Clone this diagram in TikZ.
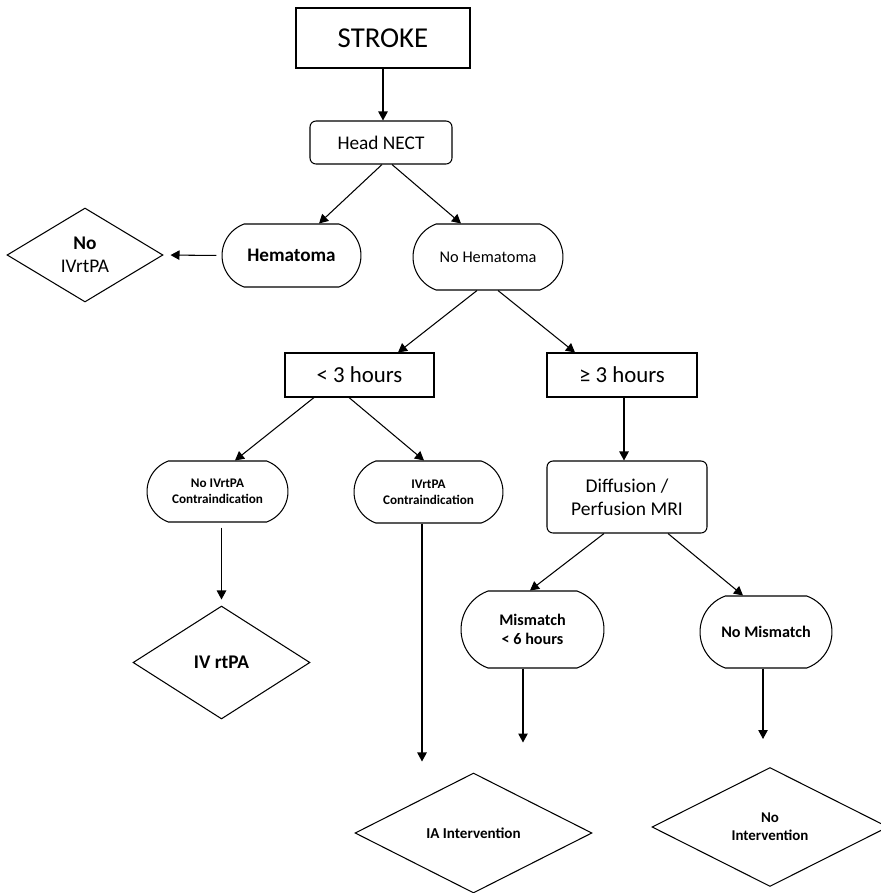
\documentclass[tikz,border=0pt]{standalone}
\usepackage{fontspec}
\setmainfont{Carlito}
\usetikzlibrary{shapes.geometric,shapes.misc,arrows.meta}

\newcommand{\fs}[2]{\fontsize{#1}{#2}\selectfont}

\begin{document}
\begin{tikzpicture}[x=0.02cm,y=-0.02cm,
    box/.style={draw,rectangle,inner sep=0pt,line width=0.6pt},
    rbox/.style={box,rounded corners=0.12cm},
    pill/.style={draw,rounded rectangle,rounded rectangle arc length=140,inner sep=0pt,line width=0.6pt,align=center},
    choice/.style={draw,diamond,inner sep=0pt,line width=0.6pt,align=center},
    arrow/.style={-{Triangle[length=1.8mm,width=1.9mm]},line width=0.6pt}]

    \useasboundingbox (0,0) rectangle (880,893);

    % Step 1: Imaging
    \node[box,minimum width=3.48cm,minimum height=1.2cm,font=\fs{16.4pt}{19pt}] (stroke) at (383,38) {STROKE};
    \node[rbox,minimum width=2.84cm,minimum height=0.86cm,font=\fs{11pt}{13pt}] (head) at (381,142.5) {Head NECT};

    % Step 2: Hematoma or not
    \node[pill,minimum width=2.78cm,minimum height=1.26cm,font=\fs{10.9pt}{13pt}\bfseries] (hem) at (291.5,255.5) {Hematoma};
    \node[pill,minimum width=3.0cm,minimum height=1.32cm,font=\fs{9.3pt}{11pt}] (nohem) at (488,257) {No Hematoma};
    \node[choice,minimum width=3.12cm,minimum height=1.88cm,font=\fs{11pt}{13.3pt}] (noiv) at (85,255) {\textbf{No}\\IVrtPA};

    % Step 3: Time window
    \node[box,minimum width=2.98cm,minimum height=0.88cm,font=\fs{13pt}{15pt}] (lt3) at (359.5,375) {< 3 hours};
    \node[box,minimum width=3.0cm,minimum height=0.88cm,font=\fs{13pt}{15pt}] (ge3) at (622,375) {≥ 3 hours};

    \node[pill,minimum width=2.82cm,minimum height=1.22cm,font=\fs{7.5pt}{9.3pt}\bfseries] (nocontra) at (217.5,491.5) {No IVrtPA\\Contraindication};
    \node[pill,minimum width=2.98cm,minimum height=1.24cm,font=\fs{7.5pt}{9.3pt}\bfseries] (contra) at (428.5,492) {IVrtPA\\Contraindication};
    \node[rbox,align=center,minimum width=3.2cm,minimum height=1.44cm,font=\fs{11.1pt}{13.1pt}] (mri) at (627,497) {Diffusion /\\Perfusion MRI};

    % Step 4: MRI result
    \node[pill,minimum width=2.86cm,minimum height=1.54cm,font=\fs{9.2pt}{11.2pt}\bfseries] (mism) at (532.5,629.5) {Mismatch\\< 6 hours};
    \node[pill,minimum width=2.64cm,minimum height=1.44cm,font=\fs{9.2pt}{11pt}\bfseries] (nomism) at (766,632) {No Mismatch};

    % Step 5: Treatment
    \node[choice,minimum width=3.54cm,minimum height=2.26cm,font=\fs{11pt}{13pt}\bfseries] (ivtpa) at (221.5,662.5) {IV rtPA};
    \node[choice,minimum width=4.74cm,minimum height=2.4cm,font=\fs{8.6pt}{10.4pt}\bfseries] (ia) at (473.5,833) {IA Intervention};
    \node[choice,minimum width=4.72cm,minimum height=2.38cm,font=\fs{8.5pt}{10.4pt}\bfseries] (noint) at (770,827) {No\\Intervention};

    % Connectors
    \draw[arrow] (stroke.south) -- (stroke.south |- head.north);
    \draw[arrow] ([xshift=0.02cm]head.south) -- ([xshift=0.55cm]hem.north);
    \draw[arrow] ([xshift=0.22cm]head.south) -- ([xshift=-0.54cm]nohem.north);
    \draw[arrow,shorten <=0.1cm,shorten >=0.14cm] (hem.west) -- (noiv.east);

    \draw[arrow] ([xshift=-0.22cm]nohem.south) -- ([xshift=0.77cm]lt3.north);
    \draw[arrow] ([xshift=0.2cm]nohem.south) -- ([xshift=-0.94cm]ge3.north);

    \draw[arrow] ([xshift=-0.91cm]lt3.south) -- ([xshift=0.35cm]nocontra.north);
    \draw[arrow] ([xshift=-0.21cm]lt3.south) -- ([xshift=-0.09cm]contra.north);
    \draw[arrow] ([xshift=0.04cm]ge3.south) -- ([xshift=0.04cm]ge3.south |- mri.north);

    \draw[arrow,shorten <=0.1cm,shorten >=0.12cm] (ivtpa.north |- nocontra.south) -- (ivtpa.north);
    \draw[arrow,shorten >=0.22cm] ([xshift=-0.13cm]contra.south) -- ([xshift=-0.13cm]contra.south |- ia.north);

    \draw[arrow] ([xshift=-0.46cm]mri.south) -- ([xshift=-0.05cm]mism.north);
    \draw[arrow] ([xshift=0.82cm]mri.south) -- ([xshift=-0.46cm]nomism.north);

    \draw[arrow,shorten >=0.6cm] ([xshift=-0.19cm]mism.south) -- ([xshift=-0.19cm]mism.south |- ia.north);
    \draw[arrow,shorten >=0.56cm] ([xshift=-0.06cm]nomism.south) -- ([xshift=-0.06cm]nomism.south |- noint.north);

\end{tikzpicture}
\end{document}
